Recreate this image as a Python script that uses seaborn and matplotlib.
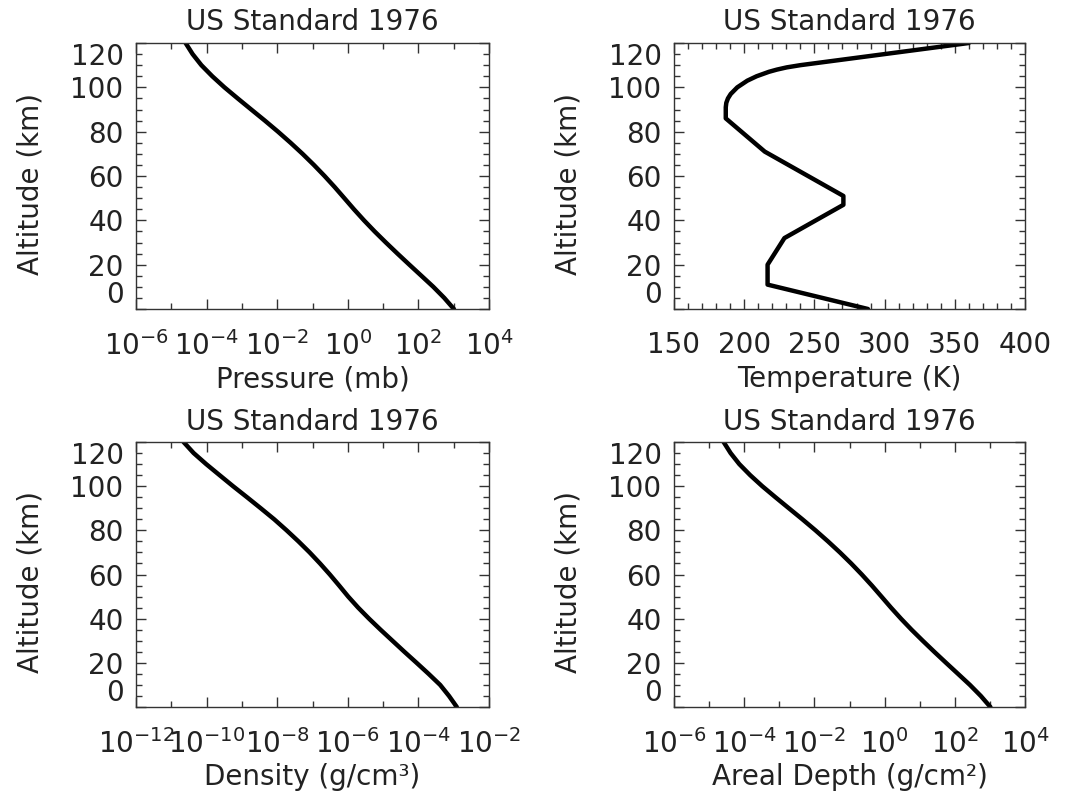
import numpy as np
import pandas as pd
import matplotlib
matplotlib.use("Agg")
import matplotlib.pyplot as plt
from matplotlib.ticker import FixedLocator, LogFormatterMathtext, NullFormatter
import seaborn as sns

# US Standard Atmosphere 1976 profiles
alt_km = [0, 5, 10, 15, 20, 25, 30, 35, 40, 45, 50, 55, 60,
          65, 70, 75, 80, 85, 90, 95, 100, 105, 110, 115, 120]

pressure_mb = [1013.25, 540.5, 264.4, 121.1, 55.29, 25.49, 11.97, 5.746,
               2.871, 1.491, 0.7978, 0.4253, 0.2196, 0.1093, 0.05221,
               0.02388, 0.01052, 0.004457, 0.001836, 7.597e-4, 3.201e-4,
               1.448e-4, 7.104e-5, 4.010e-5, 2.540e-5]

density_gcc = [1.225e-3, 7.364e-4, 4.135e-4, 1.948e-4, 8.891e-5, 4.008e-5,
               1.841e-5, 8.463e-6, 3.996e-6, 1.966e-6, 1.027e-6, 5.681e-7,
               3.097e-7, 1.632e-7, 8.283e-8, 3.992e-8, 1.846e-8, 8.220e-9,
               3.416e-9, 1.393e-9, 5.604e-10, 2.325e-10, 9.708e-11,
               4.289e-11, 2.222e-11]

depth_gcm2 = [1033.2, 551.2, 269.6, 123.5, 56.38, 25.99, 12.21, 5.859,
              2.928, 1.520, 0.8135, 0.4337, 0.2239, 0.1115, 0.05324,
              0.02435, 0.01073, 0.004545, 0.001872, 7.747e-4, 3.264e-4,
              1.477e-4, 7.244e-5, 4.089e-5, 2.590e-5]

temp_alt_km = [0, 11, 20, 32, 47, 51, 71, 86, 91, 93, 95, 97, 100,
               103, 105, 107, 108, 109, 110, 115, 120]
temperature_K = [288.15, 216.65, 216.65, 228.65, 270.65, 270.65, 214.65,
                 186.87, 186.87, 187.25, 188.42, 190.4, 195.08, 202.2,
                 208.84, 217.6, 223.3, 230.3, 240.0, 300.0, 360.0]

title_text = "US Standard 1976"
y_label = "Altitude (km)"
y_ticks = [0, 20, 40, 60, 80, 100, 120]

sns.set_theme(style="ticks")
plt.rcParams["font.family"] = ["DejaVu Sans"]
plt.rcParams["mathtext.fontset"] = "dejavusans"
plt.rcParams["mathtext.default"] = "regular"

TEXT = "#222222"
FS = 20

fig = plt.figure(figsize=(10.65, 7.95), dpi=100)
fig.patch.set_facecolor("white")

W, H = 1065.0, 795.0
boxes = {
    "p": (136, 43, 489, 309),
    "t": (674, 43, 1025, 309),
    "d": (136, 442, 489, 707),
    "a": (674, 442, 1025, 707),
}


def make_axes(key):
    l, t, r, b = boxes[key]
    return fig.add_axes([l / W, 1 - b / H, (r - l) / W, (b - t) / H])


def style_axes(ax, xlabel):
    ax.set_ylim(0, 120)
    ax.yaxis.set_major_locator(FixedLocator(y_ticks))
    ax.yaxis.set_minor_locator(FixedLocator(np.arange(0, 121, 5)))
    ax.tick_params(axis="both", which="both", direction="in",
                   top=True, right=True, colors="#333333",
                   labelcolor=TEXT, labelsize=FS, width=1.0)
    ax.tick_params(axis="both", which="major", length=7)
    ax.tick_params(axis="both", which="minor", length=4)
    ax.tick_params(axis="x", which="major", pad=16)
    ax.tick_params(axis="y", which="major", pad=9)
    for s in ax.spines.values():
        s.set_color("#333333")
        s.set_linewidth(1.0)
    ax.set_title(title_text, fontsize=FS, color=TEXT, pad=9)
    ax.set_ylabel(y_label, fontsize=FS, color=TEXT)
    ax.set_xlabel(xlabel, fontsize=FS, color=TEXT)
    ax.yaxis.set_label_coords(-0.26, 0.47)
    ax.xaxis.set_label_coords(0.5, -0.212)
    ticks = ax.yaxis.get_major_ticks()
    ticks[0].label1.set_va("bottom")
    ticks[-1].label1.set_va("top")


def log_axis(ax, lo, hi):
    ax.set_xscale("log")
    ax.set_xlim(10.0 ** lo, 10.0 ** hi)
    ax.xaxis.set_major_locator(FixedLocator([10.0 ** e for e in range(lo, hi + 1, 2)]))
    ax.xaxis.set_minor_locator(FixedLocator([10.0 ** e for e in range(lo + 1, hi, 2)]))
    ax.xaxis.set_major_formatter(LogFormatterMathtext())
    ax.xaxis.set_minor_formatter(NullFormatter())


def profile(ax, x, y):
    df = pd.DataFrame({"x": x, "y": y})
    sns.lineplot(data=df, x="x", y="y", ax=ax, sort=False, estimator=None,
                 color="black", linewidth=3.2)


ax1 = make_axes("p")
profile(ax1, pressure_mb, alt_km)
log_axis(ax1, -6, 4)
style_axes(ax1, "Pressure (mb)")

ax2 = make_axes("t")
profile(ax2, temperature_K, temp_alt_km)
ax2.set_xlim(150, 400)
ax2.xaxis.set_major_locator(FixedLocator([150, 200, 250, 300, 350, 400]))
ax2.xaxis.set_minor_locator(FixedLocator(np.arange(150, 401, 10)))
style_axes(ax2, "Temperature (K)")

ax3 = make_axes("d")
profile(ax3, density_gcc, alt_km)
log_axis(ax3, -12, -2)
style_axes(ax3, "Density (g/cm³)")

ax4 = make_axes("a")
profile(ax4, depth_gcm2, alt_km)
log_axis(ax4, -6, 4)
style_axes(ax4, "Areal Depth (g/cm²)")

fig.savefig("out.png", dpi=100, facecolor="white")
